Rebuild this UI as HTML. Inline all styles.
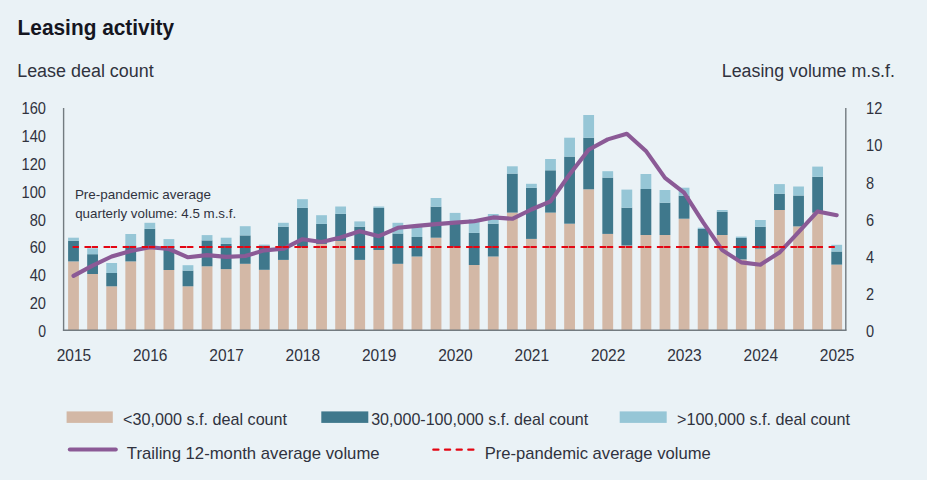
<!DOCTYPE html>
<html><head><meta charset="utf-8"><title>Leasing activity</title>
<style>
html,body{margin:0;padding:0;background:#eaf2f6;}
body{width:927px;height:480px;overflow:hidden;}
svg{display:block;font-family:"Liberation Sans", sans-serif;}
</style></head>
<body>
<svg width="927" height="480" viewBox="0 0 927 480">
<rect x="0" y="0" width="927" height="480" fill="#eaf2f6"/>
<rect x="68.1" y="261.4" width="10.8" height="68.6" fill="#d3b8a6"/>
<rect x="68.1" y="240.7" width="10.8" height="20.7" fill="#3f788c"/>
<rect x="68.1" y="237.7" width="10.8" height="3" fill="#96c6d6"/>
<rect x="87.18" y="274" width="10.8" height="56" fill="#d3b8a6"/>
<rect x="87.18" y="254.2" width="10.8" height="19.8" fill="#3f788c"/>
<rect x="87.18" y="248.3" width="10.8" height="5.9" fill="#96c6d6"/>
<rect x="106.26" y="286.3" width="10.8" height="43.7" fill="#d3b8a6"/>
<rect x="106.26" y="273" width="10.8" height="13.3" fill="#3f788c"/>
<rect x="106.26" y="263" width="10.8" height="10" fill="#96c6d6"/>
<rect x="125.34" y="261.4" width="10.8" height="68.6" fill="#d3b8a6"/>
<rect x="125.34" y="245.5" width="10.8" height="15.9" fill="#3f788c"/>
<rect x="125.34" y="234" width="10.8" height="11.5" fill="#96c6d6"/>
<rect x="144.42" y="248" width="10.8" height="82" fill="#d3b8a6"/>
<rect x="144.42" y="228.8" width="10.8" height="19.2" fill="#3f788c"/>
<rect x="144.42" y="222.8" width="10.8" height="6" fill="#96c6d6"/>
<rect x="163.5" y="270" width="10.8" height="60" fill="#d3b8a6"/>
<rect x="163.5" y="246" width="10.8" height="24" fill="#3f788c"/>
<rect x="163.5" y="239.1" width="10.8" height="6.9" fill="#96c6d6"/>
<rect x="182.58" y="286.3" width="10.8" height="43.7" fill="#d3b8a6"/>
<rect x="182.58" y="270.6" width="10.8" height="15.7" fill="#3f788c"/>
<rect x="182.58" y="265.2" width="10.8" height="5.4" fill="#96c6d6"/>
<rect x="201.66" y="266.3" width="10.8" height="63.7" fill="#d3b8a6"/>
<rect x="201.66" y="240.4" width="10.8" height="25.9" fill="#3f788c"/>
<rect x="201.66" y="235.1" width="10.8" height="5.3" fill="#96c6d6"/>
<rect x="220.74" y="269.1" width="10.8" height="60.9" fill="#d3b8a6"/>
<rect x="220.74" y="243.9" width="10.8" height="25.2" fill="#3f788c"/>
<rect x="220.74" y="237.7" width="10.8" height="6.2" fill="#96c6d6"/>
<rect x="239.82" y="263.8" width="10.8" height="66.2" fill="#d3b8a6"/>
<rect x="239.82" y="235.4" width="10.8" height="28.4" fill="#3f788c"/>
<rect x="239.82" y="226.2" width="10.8" height="9.2" fill="#96c6d6"/>
<rect x="258.9" y="269.8" width="10.8" height="60.2" fill="#d3b8a6"/>
<rect x="258.9" y="245.5" width="10.8" height="24.3" fill="#3f788c"/>
<rect x="258.9" y="244.6" width="10.8" height="0.9" fill="#96c6d6"/>
<rect x="277.98" y="259.9" width="10.8" height="70.1" fill="#d3b8a6"/>
<rect x="277.98" y="226.7" width="10.8" height="33.2" fill="#3f788c"/>
<rect x="277.98" y="222.8" width="10.8" height="3.9" fill="#96c6d6"/>
<rect x="297.06" y="247.3" width="10.8" height="82.7" fill="#d3b8a6"/>
<rect x="297.06" y="207.9" width="10.8" height="39.4" fill="#3f788c"/>
<rect x="297.06" y="199.2" width="10.8" height="8.7" fill="#96c6d6"/>
<rect x="316.14" y="243.9" width="10.8" height="86.1" fill="#d3b8a6"/>
<rect x="316.14" y="223.9" width="10.8" height="20" fill="#3f788c"/>
<rect x="316.14" y="215.2" width="10.8" height="8.7" fill="#96c6d6"/>
<rect x="335.22" y="240.9" width="10.8" height="89.1" fill="#d3b8a6"/>
<rect x="335.22" y="213.8" width="10.8" height="27.1" fill="#3f788c"/>
<rect x="335.22" y="206.5" width="10.8" height="7.3" fill="#96c6d6"/>
<rect x="354.3" y="259.9" width="10.8" height="70.1" fill="#d3b8a6"/>
<rect x="354.3" y="226.7" width="10.8" height="33.2" fill="#3f788c"/>
<rect x="354.3" y="221.4" width="10.8" height="5.3" fill="#96c6d6"/>
<rect x="373.38" y="250" width="10.8" height="80" fill="#d3b8a6"/>
<rect x="373.38" y="207.9" width="10.8" height="42.1" fill="#3f788c"/>
<rect x="373.38" y="206.5" width="10.8" height="1.4" fill="#96c6d6"/>
<rect x="392.46" y="263.8" width="10.8" height="66.2" fill="#d3b8a6"/>
<rect x="392.46" y="233.5" width="10.8" height="30.3" fill="#3f788c"/>
<rect x="392.46" y="222.8" width="10.8" height="10.7" fill="#96c6d6"/>
<rect x="411.54" y="256.5" width="10.8" height="73.5" fill="#d3b8a6"/>
<rect x="411.54" y="237" width="10.8" height="19.5" fill="#3f788c"/>
<rect x="411.54" y="226.7" width="10.8" height="10.3" fill="#96c6d6"/>
<rect x="430.62" y="237.7" width="10.8" height="92.3" fill="#d3b8a6"/>
<rect x="430.62" y="206.7" width="10.8" height="31" fill="#3f788c"/>
<rect x="430.62" y="198" width="10.8" height="8.7" fill="#96c6d6"/>
<rect x="449.7" y="246.8" width="10.8" height="83.2" fill="#d3b8a6"/>
<rect x="449.7" y="222" width="10.8" height="24.8" fill="#3f788c"/>
<rect x="449.7" y="212.9" width="10.8" height="9.1" fill="#96c6d6"/>
<rect x="468.78" y="265" width="10.8" height="65" fill="#d3b8a6"/>
<rect x="468.78" y="232.9" width="10.8" height="32.1" fill="#3f788c"/>
<rect x="468.78" y="219.3" width="10.8" height="13.6" fill="#96c6d6"/>
<rect x="487.86" y="256.5" width="10.8" height="73.5" fill="#d3b8a6"/>
<rect x="487.86" y="223.7" width="10.8" height="32.8" fill="#3f788c"/>
<rect x="487.86" y="214" width="10.8" height="9.7" fill="#96c6d6"/>
<rect x="506.94" y="212.6" width="10.8" height="117.4" fill="#d3b8a6"/>
<rect x="506.94" y="173.6" width="10.8" height="39" fill="#3f788c"/>
<rect x="506.94" y="166.3" width="10.8" height="7.3" fill="#96c6d6"/>
<rect x="526.02" y="238.9" width="10.8" height="91.1" fill="#d3b8a6"/>
<rect x="526.02" y="187.8" width="10.8" height="51.1" fill="#3f788c"/>
<rect x="526.02" y="183.8" width="10.8" height="4" fill="#96c6d6"/>
<rect x="545.1" y="212.6" width="10.8" height="117.4" fill="#d3b8a6"/>
<rect x="545.1" y="170.3" width="10.8" height="42.3" fill="#3f788c"/>
<rect x="545.1" y="159" width="10.8" height="11.3" fill="#96c6d6"/>
<rect x="564.18" y="223.7" width="10.8" height="106.3" fill="#d3b8a6"/>
<rect x="564.18" y="156.6" width="10.8" height="67.1" fill="#3f788c"/>
<rect x="564.18" y="137.7" width="10.8" height="18.9" fill="#96c6d6"/>
<rect x="583.26" y="189.3" width="10.8" height="140.7" fill="#d3b8a6"/>
<rect x="583.26" y="137.7" width="10.8" height="51.6" fill="#3f788c"/>
<rect x="583.26" y="115" width="10.8" height="22.7" fill="#96c6d6"/>
<rect x="602.34" y="233.9" width="10.8" height="96.1" fill="#d3b8a6"/>
<rect x="602.34" y="177.6" width="10.8" height="56.3" fill="#3f788c"/>
<rect x="602.34" y="171.2" width="10.8" height="6.4" fill="#96c6d6"/>
<rect x="621.42" y="245.5" width="10.8" height="84.5" fill="#d3b8a6"/>
<rect x="621.42" y="207.7" width="10.8" height="37.8" fill="#3f788c"/>
<rect x="621.42" y="189.6" width="10.8" height="18.1" fill="#96c6d6"/>
<rect x="640.5" y="235" width="10.8" height="95" fill="#d3b8a6"/>
<rect x="640.5" y="189" width="10.8" height="46" fill="#3f788c"/>
<rect x="640.5" y="174" width="10.8" height="15" fill="#96c6d6"/>
<rect x="659.58" y="235" width="10.8" height="95" fill="#d3b8a6"/>
<rect x="659.58" y="202.7" width="10.8" height="32.3" fill="#3f788c"/>
<rect x="659.58" y="190" width="10.8" height="12.7" fill="#96c6d6"/>
<rect x="678.66" y="218.7" width="10.8" height="111.3" fill="#d3b8a6"/>
<rect x="678.66" y="195.7" width="10.8" height="23" fill="#3f788c"/>
<rect x="678.66" y="187.7" width="10.8" height="8" fill="#96c6d6"/>
<rect x="697.74" y="246.7" width="10.8" height="83.3" fill="#d3b8a6"/>
<rect x="697.74" y="229" width="10.8" height="17.7" fill="#3f788c"/>
<rect x="697.74" y="227.7" width="10.8" height="1.3" fill="#96c6d6"/>
<rect x="716.82" y="235" width="10.8" height="95" fill="#d3b8a6"/>
<rect x="716.82" y="211.7" width="10.8" height="23.3" fill="#3f788c"/>
<rect x="716.82" y="210" width="10.8" height="1.7" fill="#96c6d6"/>
<rect x="735.9" y="259.4" width="10.8" height="70.6" fill="#d3b8a6"/>
<rect x="735.9" y="238" width="10.8" height="21.4" fill="#3f788c"/>
<rect x="735.9" y="236.6" width="10.8" height="1.4" fill="#96c6d6"/>
<rect x="754.98" y="248.6" width="10.8" height="81.4" fill="#d3b8a6"/>
<rect x="754.98" y="226.7" width="10.8" height="21.9" fill="#3f788c"/>
<rect x="754.98" y="220" width="10.8" height="6.7" fill="#96c6d6"/>
<rect x="774.06" y="210" width="10.8" height="120" fill="#d3b8a6"/>
<rect x="774.06" y="193.7" width="10.8" height="16.3" fill="#3f788c"/>
<rect x="774.06" y="184.1" width="10.8" height="9.6" fill="#96c6d6"/>
<rect x="793.14" y="226.4" width="10.8" height="103.6" fill="#d3b8a6"/>
<rect x="793.14" y="195.5" width="10.8" height="30.9" fill="#3f788c"/>
<rect x="793.14" y="186.5" width="10.8" height="9" fill="#96c6d6"/>
<rect x="812.22" y="212.7" width="10.8" height="117.3" fill="#d3b8a6"/>
<rect x="812.22" y="176.8" width="10.8" height="35.9" fill="#3f788c"/>
<rect x="812.22" y="166.6" width="10.8" height="10.2" fill="#96c6d6"/>
<rect x="831.3" y="264.6" width="10.8" height="65.4" fill="#d3b8a6"/>
<rect x="831.3" y="251.5" width="10.8" height="13.1" fill="#3f788c"/>
<rect x="831.3" y="244.8" width="10.8" height="6.7" fill="#96c6d6"/>
<polyline points="73.5,275.9 92.58,265.6 111.66,256.5 130.74,251 149.82,247.2 168.9,249 187.98,257.3 207.06,255.1 226.14,256.9 245.22,256 264.3,250.4 283.38,248.8 302.46,239.2 321.54,242 340.62,237.4 359.7,231.2 378.78,236.2 397.86,227.8 416.94,225.9 436.02,224.1 455.1,222.6 474.18,221.3 493.26,217.4 512.34,218.8 531.42,209.5 550.5,201.4 569.58,174.5 588.66,149.8 607.74,139.4 626.82,133.7 645.9,150.9 664.98,177.9 684.06,192.7 703.14,222.4 722.22,250.1 741.3,262.4 760.38,264.7 779.46,252.6 798.54,232.1 817.62,211.4 836.7,215.2" fill="none" stroke="#8b5a96" stroke-width="4.1" stroke-linejoin="round" stroke-linecap="round"/>
<line x1="72.6" y1="247.1" x2="834.8" y2="247.1" stroke="#e30613" stroke-width="2" stroke-dasharray="6.3 5.6 6.5 0.68"/>
<line x1="63.6" y1="108" x2="63.6" y2="330.6" stroke="#737b80" stroke-width="1.4"/>
<line x1="845.8" y1="108" x2="845.8" y2="330.6" stroke="#737b80" stroke-width="1.4"/>
<line x1="62.9" y1="330.3" x2="846.5" y2="330.3" stroke="#737b80" stroke-width="1.4"/>
<text x="17.6" y="34.9" font-size="22.5" font-weight="bold" text-anchor="start" fill="#15161f" textLength="156.4" lengthAdjust="spacingAndGlyphs">Leasing activity</text>
<text x="17.2" y="77.1" font-size="18" font-weight="normal" text-anchor="start" fill="#30323e" textLength="136.5" lengthAdjust="spacingAndGlyphs">Lease deal count</text>
<text x="721.8" y="77" font-size="18" font-weight="normal" text-anchor="start" fill="#30323e" textLength="173.1" lengthAdjust="spacingAndGlyphs">Leasing volume m.s.f.</text>
<text x="46" y="336.9" font-size="16.5" font-weight="normal" text-anchor="end" fill="#30323e" textLength="7.8" lengthAdjust="spacingAndGlyphs">0</text>
<text x="46" y="309.05" font-size="16.5" font-weight="normal" text-anchor="end" fill="#30323e" textLength="16.3" lengthAdjust="spacingAndGlyphs">20</text>
<text x="46" y="281.2" font-size="16.5" font-weight="normal" text-anchor="end" fill="#30323e" textLength="16.3" lengthAdjust="spacingAndGlyphs">40</text>
<text x="46" y="253.35" font-size="16.5" font-weight="normal" text-anchor="end" fill="#30323e" textLength="16.3" lengthAdjust="spacingAndGlyphs">60</text>
<text x="46" y="225.5" font-size="16.5" font-weight="normal" text-anchor="end" fill="#30323e" textLength="16.3" lengthAdjust="spacingAndGlyphs">80</text>
<text x="46" y="197.65" font-size="16.5" font-weight="normal" text-anchor="end" fill="#30323e" textLength="24.4" lengthAdjust="spacingAndGlyphs">100</text>
<text x="46" y="169.8" font-size="16.5" font-weight="normal" text-anchor="end" fill="#30323e" textLength="24.4" lengthAdjust="spacingAndGlyphs">120</text>
<text x="46" y="141.95" font-size="16.5" font-weight="normal" text-anchor="end" fill="#30323e" textLength="24.4" lengthAdjust="spacingAndGlyphs">140</text>
<text x="46" y="114.1" font-size="16.5" font-weight="normal" text-anchor="end" fill="#30323e" textLength="24.4" lengthAdjust="spacingAndGlyphs">160</text>
<text x="866" y="336.9" font-size="16.5" font-weight="normal" text-anchor="start" fill="#30323e" textLength="8.1" lengthAdjust="spacingAndGlyphs">0</text>
<text x="866" y="299.8" font-size="16.5" font-weight="normal" text-anchor="start" fill="#30323e" textLength="8.1" lengthAdjust="spacingAndGlyphs">2</text>
<text x="866" y="262.7" font-size="16.5" font-weight="normal" text-anchor="start" fill="#30323e" textLength="8.1" lengthAdjust="spacingAndGlyphs">4</text>
<text x="866" y="225.6" font-size="16.5" font-weight="normal" text-anchor="start" fill="#30323e" textLength="8.1" lengthAdjust="spacingAndGlyphs">6</text>
<text x="866" y="188.5" font-size="16.5" font-weight="normal" text-anchor="start" fill="#30323e" textLength="8.1" lengthAdjust="spacingAndGlyphs">8</text>
<text x="866" y="151.4" font-size="16.5" font-weight="normal" text-anchor="start" fill="#30323e" textLength="16.3" lengthAdjust="spacingAndGlyphs">10</text>
<text x="866" y="114.3" font-size="16.5" font-weight="normal" text-anchor="start" fill="#30323e" textLength="16.3" lengthAdjust="spacingAndGlyphs">12</text>
<text x="73.9" y="361" font-size="16.5" font-weight="normal" text-anchor="middle" fill="#30323e" textLength="34.5" lengthAdjust="spacingAndGlyphs">2015</text>
<text x="150.22" y="361" font-size="16.5" font-weight="normal" text-anchor="middle" fill="#30323e" textLength="34.5" lengthAdjust="spacingAndGlyphs">2016</text>
<text x="226.54" y="361" font-size="16.5" font-weight="normal" text-anchor="middle" fill="#30323e" textLength="34.5" lengthAdjust="spacingAndGlyphs">2017</text>
<text x="302.86" y="361" font-size="16.5" font-weight="normal" text-anchor="middle" fill="#30323e" textLength="34.5" lengthAdjust="spacingAndGlyphs">2018</text>
<text x="379.18" y="361" font-size="16.5" font-weight="normal" text-anchor="middle" fill="#30323e" textLength="34.5" lengthAdjust="spacingAndGlyphs">2019</text>
<text x="455.5" y="361" font-size="16.5" font-weight="normal" text-anchor="middle" fill="#30323e" textLength="34.5" lengthAdjust="spacingAndGlyphs">2020</text>
<text x="531.82" y="361" font-size="16.5" font-weight="normal" text-anchor="middle" fill="#30323e" textLength="34.5" lengthAdjust="spacingAndGlyphs">2021</text>
<text x="608.14" y="361" font-size="16.5" font-weight="normal" text-anchor="middle" fill="#30323e" textLength="34.5" lengthAdjust="spacingAndGlyphs">2022</text>
<text x="684.46" y="361" font-size="16.5" font-weight="normal" text-anchor="middle" fill="#30323e" textLength="34.5" lengthAdjust="spacingAndGlyphs">2023</text>
<text x="760.78" y="361" font-size="16.5" font-weight="normal" text-anchor="middle" fill="#30323e" textLength="34.5" lengthAdjust="spacingAndGlyphs">2024</text>
<text x="837.1" y="361" font-size="16.5" font-weight="normal" text-anchor="middle" fill="#30323e" textLength="34.5" lengthAdjust="spacingAndGlyphs">2025</text>
<text x="74.9" y="199.1" font-size="13.3" font-weight="normal" text-anchor="start" fill="#30323e" textLength="136.1" lengthAdjust="spacingAndGlyphs">Pre-pandemic average</text>
<text x="75.2" y="218.3" font-size="13.3" font-weight="normal" text-anchor="start" fill="#30323e" textLength="161" lengthAdjust="spacingAndGlyphs">quarterly volume: 4.5 m.s.f.</text>
<text x="123.1" y="424.9" font-size="17" font-weight="normal" text-anchor="start" fill="#30323e" textLength="164" lengthAdjust="spacingAndGlyphs">&lt;30,000 s.f. deal count</text>
<text x="371.2" y="424.9" font-size="17" font-weight="normal" text-anchor="start" fill="#30323e" textLength="217.1" lengthAdjust="spacingAndGlyphs">30,000-100,000 s.f. deal count</text>
<text x="677" y="424.9" font-size="17" font-weight="normal" text-anchor="start" fill="#30323e" textLength="173.1" lengthAdjust="spacingAndGlyphs">&gt;100,000 s.f. deal count</text>
<text x="126.8" y="459" font-size="17" font-weight="normal" text-anchor="start" fill="#30323e" textLength="252.8" lengthAdjust="spacingAndGlyphs">Trailing 12-month average volume</text>
<text x="484.7" y="459" font-size="17" font-weight="normal" text-anchor="start" fill="#30323e" textLength="226" lengthAdjust="spacingAndGlyphs">Pre-pandemic average volume</text>
<rect x="66.6" y="411.4" width="46.2" height="11.5" fill="#d3b8a6"/>
<rect x="321.3" y="411.4" width="47" height="11.5" fill="#3f788c"/>
<rect x="619.7" y="411.4" width="47" height="11.5" fill="#96c6d6"/>
<line x1="69.8" y1="449.5" x2="115.8" y2="449.5" stroke="#8b5a96" stroke-width="4" stroke-linecap="round"/>
<line x1="433.3" y1="449.7" x2="474" y2="449.7" stroke="#e30613" stroke-width="2.2" stroke-linecap="round" stroke-dasharray="5.2 6.45"/>
</svg>
</body></html>
